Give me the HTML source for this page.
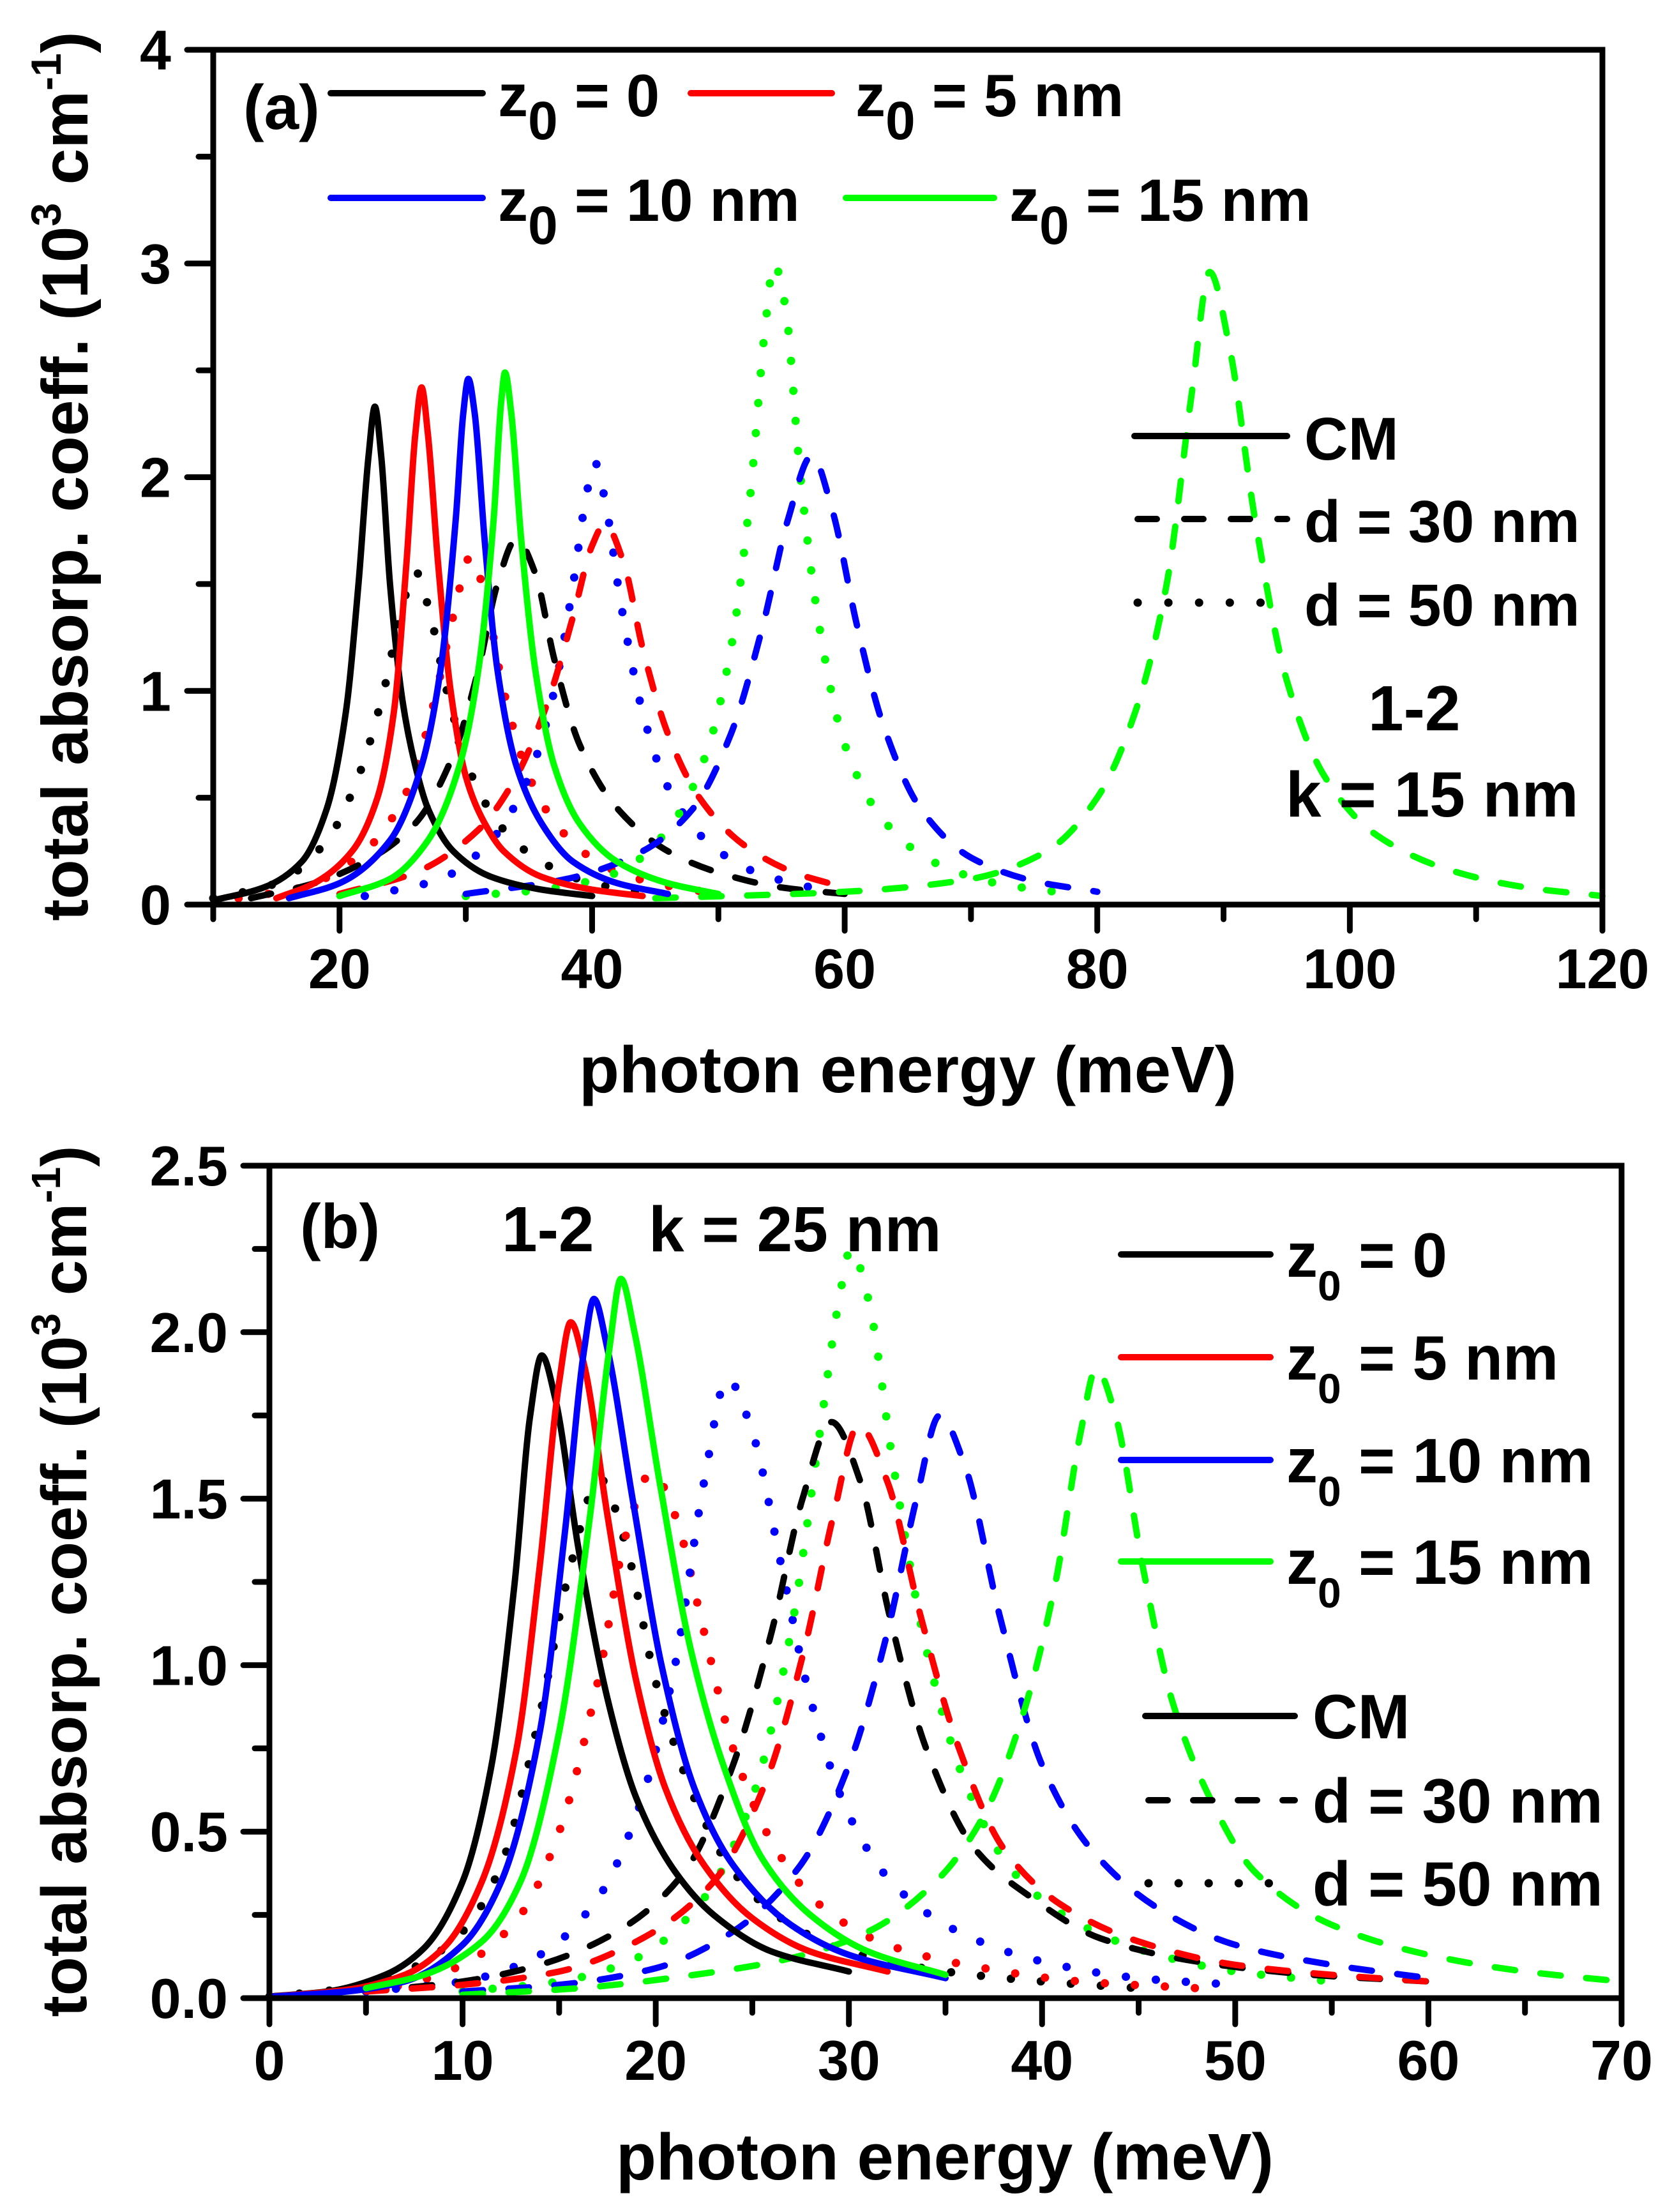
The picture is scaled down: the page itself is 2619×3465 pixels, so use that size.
<!DOCTYPE html>
<html><head><meta charset="utf-8"><title>Total absorption coefficient vs photon energy</title>
<style>
html,body{margin:0;padding:0;background:#fff;}
svg{display:block;}
text{font-family:"Liberation Sans",Arial,sans-serif;font-weight:bold;fill:#000;}
</style></head>
<body>
<svg id="chart" xmlns="http://www.w3.org/2000/svg" width="2619" height="3465" viewBox="0 0 2619 3465">
<rect x="0" y="0" width="2619" height="3465" fill="#fff"/>
<g id="panelA"></g>
<g id="panelB"></g>

<text x="381" y="202" font-size="98">(a)</text>
<g>
  <line x1="518" y1="146" x2="756" y2="146" stroke="#000" stroke-width="10" stroke-linecap="round"/>
  <text x="780" y="182" font-size="94">z<tspan font-size="84" dy="36">0</tspan><tspan dy="-36"> = 0</tspan></text>
  <line x1="1082" y1="146" x2="1303" y2="146" stroke="#ff0000" stroke-width="10" stroke-linecap="round"/>
  <text x="1340" y="182" font-size="94">z<tspan font-size="84" dy="36">0</tspan><tspan dy="-36"> = 5 nm</tspan></text>
  <line x1="518" y1="310" x2="756" y2="310" stroke="#0000ff" stroke-width="10" stroke-linecap="round"/>
  <text x="780" y="346" font-size="94">z<tspan font-size="84" dy="36">0</tspan><tspan dy="-36"> = 10 nm</tspan></text>
  <line x1="1325" y1="310" x2="1557" y2="310" stroke="#00ff00" stroke-width="10" stroke-linecap="round"/>
  <text x="1581" y="346" font-size="94">z<tspan font-size="84" dy="36">0</tspan><tspan dy="-36"> = 15 nm</tspan></text>
</g>
<g>
  <line x1="1777" y1="683" x2="2016" y2="683" stroke="#000" stroke-width="10" stroke-linecap="round"/>
  <text x="2043" y="720" font-size="95">CM</text>
  <line x1="1782" y1="813" x2="2016" y2="813" stroke="#000" stroke-width="10" stroke-linecap="round" stroke-dasharray="30 43"/>
  <text x="2043" y="849" font-size="93">d = 30 nm</text>
  <line x1="1782" y1="944" x2="2016" y2="944" stroke="#000" stroke-width="13" stroke-linecap="round" stroke-dasharray="0.1 48"/>
  <text x="2043" y="980" font-size="93">d = 50 nm</text>
  <text x="2143" y="1144" font-size="100">1-2</text>
  <text x="2014" y="1279" font-size="100">k = 15 nm</text>
</g>
<text x="1422" y="1711" font-size="103" text-anchor="middle">photon energy (meV)</text>
<text transform="translate(137,746) rotate(-90)" font-size="102" text-anchor="middle">total absorp. coeff. (10<tspan font-size="66" dy="-42">3</tspan><tspan dy="42"> cm</tspan><tspan font-size="66" dy="-42">-1</tspan><tspan dy="42">)</tspan></text>

<text x="470" y="1955" font-size="98">(b)</text>
<text x="786" y="1960" font-size="100">1-2<tspan x="1016">k = 25 nm</tspan></text>
<g>
  <line x1="1756" y1="1965" x2="1990" y2="1965" stroke="#000" stroke-width="10" stroke-linecap="round"/>
  <text x="2015" y="2000" font-size="98">z<tspan font-size="66" dy="37">0</tspan><tspan dy="-37"> = 0</tspan></text>
  <line x1="1756" y1="2126" x2="1990" y2="2126" stroke="#ff0000" stroke-width="10" stroke-linecap="round"/>
  <text x="2015" y="2161" font-size="98">z<tspan font-size="66" dy="37">0</tspan><tspan dy="-37"> = 5 nm</tspan></text>
  <line x1="1756" y1="2287" x2="1990" y2="2287" stroke="#0000ff" stroke-width="10" stroke-linecap="round"/>
  <text x="2015" y="2322" font-size="98">z<tspan font-size="66" dy="37">0</tspan><tspan dy="-37"> = 10 nm</tspan></text>
  <line x1="1756" y1="2446" x2="1990" y2="2446" stroke="#00ff00" stroke-width="10" stroke-linecap="round"/>
  <text x="2015" y="2481" font-size="98">z<tspan font-size="66" dy="37">0</tspan><tspan dy="-37"> = 15 nm</tspan></text>
</g>
<g>
  <line x1="1794" y1="2688" x2="2028" y2="2688" stroke="#000" stroke-width="10" stroke-linecap="round"/>
  <text x="2056" y="2723" font-size="98">CM</text>
  <line x1="1799" y1="2820" x2="2028" y2="2820" stroke="#000" stroke-width="10" stroke-linecap="round" stroke-dasharray="30 40"/>
  <text x="2056" y="2855" font-size="98">d = 30 nm</text>
  <line x1="1799" y1="2950" x2="2028" y2="2950" stroke="#000" stroke-width="13" stroke-linecap="round" stroke-dasharray="0.1 47"/>
  <text x="2056" y="2985" font-size="98">d = 50 nm</text>
</g>
<text x="1480" y="3414" font-size="103" text-anchor="middle">photon energy (meV)</text>
<text transform="translate(135,2477) rotate(-90)" font-size="100" text-anchor="middle">total absorp. coeff. (10<tspan font-size="64" dy="-41">3</tspan><tspan dy="41"> cm</tspan><tspan font-size="64" dy="-41">-1</tspan><tspan dy="41">)</tspan></text>
</svg>

<script>
const aXTicks = [20, 40, 60, 80, 100, 120];
const aXTickLabels = ["20", "40", "60", "80", "100", "120"];
const aYTicks = [0, 1, 2, 3, 4];
const aYTickLabels = ["0", "1", "2", "3", "4"];
const aCmZ0  = [[10,0.02],[14,0.08],[17,0.2],[19,0.45],[20.5,0.9],[21.5,1.5],[22.3,2.1],[22.8,2.33],[23.3,2.1],[24,1.5],[25,0.95],[26,0.65],[27,0.45],[29,0.25],[32,0.13],[36,0.07],[40,0.04]];
const aCmZ5  = [[15,0.03],[18,0.1],[21,0.25],[23,0.5],[24.3,0.9],[25.3,1.6],[26,2.2],[26.5,2.42],[27,2.2],[27.8,1.6],[28.8,1.0],[30,0.6],[31.5,0.38],[33,0.25],[36,0.13],[40,0.07],[44,0.04]];
const aCmZ10 = [[16,0.03],[20,0.1],[24,0.3],[26.5,0.65],[28,1.1],[29.2,1.8],[29.8,2.3],[30.2,2.46],[30.7,2.3],[31.5,1.7],[32.5,1.1],[34,0.65],[36,0.38],[38.5,0.2],[42,0.1],[46,0.05]];
const aCmZ15 = [[20,0.04],[24,0.12],[27,0.3],[29.5,0.65],[31,1.1],[32.2,1.8],[32.8,2.35],[33.1,2.49],[33.6,2.3],[34.4,1.7],[35.5,1.1],[37,0.65],[39,0.38],[42,0.2],[46,0.1],[50,0.05]];
const aD30Z0  = [[13,0.03],[18,0.1],[22,0.2],[26,0.38],[29,0.7],[31,1.1],[32.5,1.5],[34,1.71],[35.5,1.55],[37,1.15],[39,0.75],[42,0.45],[46,0.25],[50,0.15],[55,0.08],[60,0.05]];
const aD30Z5  = [[20,0.05],[26,0.15],[31,0.35],[34,0.6],[36.5,0.95],[38.5,1.35],[40,1.68],[41,1.78],[42.5,1.6],[44,1.2],[46,0.8],[48.5,0.5],[52,0.28],[56,0.15],[60,0.08]];
const aD30Z10 = [[30,0.05],[38,0.12],[44,0.25],[48,0.45],[51,0.8],[53.5,1.3],[55.5,1.8],[57.4,2.1],[59,1.85],[61,1.3],[63,0.85],[66,0.45],[70,0.22],[75,0.11],[80,0.06]];
const aD30Z15 = [[45,0.03],[60,0.06],[70,0.12],[76,0.25],[80,0.5],[83,0.9],[85.5,1.5],[87.5,2.4],[88.9,2.96],[90.5,2.6],[92.5,1.8],[95,1.05],[98,0.6],[102,0.33],[108,0.16],[114,0.08],[120,0.04]];
const aD50Z0  = [[10,0.03],[15,0.1],[19,0.3],[21.5,0.6],[23.5,1.0],[25,1.4],[26,1.56],[27,1.4],[28.5,1.0],[30.5,0.6],[33,0.35],[36,0.2],[40,0.1],[45,0.05]];
const aD50Z5  = [[12,0.03],[17,0.08],[22,0.25],[25.5,0.55],[27.5,0.95],[29,1.35],[30.4,1.63],[31.5,1.45],[33,1.0],[35,0.6],[37.5,0.35],[41,0.18],[45,0.1],[50,0.05]];
const aD50Z10 = [[22,0.04],[28,0.12],[32,0.3],[35,0.6],[37,1.0],[38.5,1.5],[39.5,1.9],[40.2,2.07],[41,1.9],[42.3,1.4],[44,0.9],[46,0.55],[49,0.3],[53,0.15],[58,0.07]];
const aD50Z15 = [[30,0.04],[36,0.07],[42,0.15],[46,0.35],[49,0.7],[51,1.2],[52.5,1.9],[53.7,2.7],[54.4,3.0],[55.3,2.8],[56.5,2.0],[58,1.3],[60,0.75],[63,0.4],[67,0.2],[72,0.1],[78,0.05]];

const bXTicks = [0, 10, 20, 30, 40, 50, 60, 70];
const bXTickLabels = ["0", "10", "20", "30", "40", "50", "60", "70"];
const bYTicks = [0, 0.5, 1, 1.5, 2, 2.5];
const bYTickLabels = ["0.0", "0.5", "1.0", "1.5", "2.0", "2.5"];
const bCmZ0  = [[0,0.005],[3,0.02],[6,0.07],[8,0.15],[10,0.35],[11.5,0.7],[12.7,1.25],[13.5,1.75],[14.1,1.93],[14.8,1.8],[16,1.35],[17.5,0.9],[19,0.6],[21,0.38],[23,0.25],[26,0.14],[30,0.08]];
const bCmZ5  = [[0,0.004],[4,0.025],[7,0.07],[9,0.15],[11,0.35],[12.8,0.75],[14,1.3],[15,1.85],[15.6,2.03],[16.3,1.9],[17.5,1.45],[19,0.95],[20.5,0.63],[22.5,0.4],[25,0.24],[28,0.14],[32,0.08]];
const bCmZ10 = [[0,0.004],[4,0.02],[7,0.05],[10,0.16],[12,0.35],[14,0.8],[15.3,1.4],[16.3,1.95],[16.8,2.1],[17.5,1.95],[18.8,1.5],[20.3,1.0],[22,0.63],[24,0.4],[27,0.22],[30,0.13],[35,0.06]];
const bCmZ15 = [[5,0.03],[8,0.07],[11,0.17],[13,0.35],[15,0.8],[16.6,1.45],[17.6,1.95],[18.2,2.16],[18.9,2.0],[20.2,1.55],[21.8,1.05],[23.5,0.7],[25.5,0.42],[28,0.25],[31,0.14],[35,0.07]];
const bD30Z0  = [[5,0.02],[10,0.05],[14,0.1],[18,0.2],[21.5,0.38],[24,0.7],[26,1.1],[27.6,1.5],[29.1,1.73],[30.6,1.55],[32.1,1.15],[34,0.75],[36.5,0.45],[39.5,0.3],[43,0.18],[48,0.11],[54,0.07],[60,0.05]];
const bD30Z5  = [[5,0.02],[10,0.04],[15,0.08],[19,0.17],[23,0.35],[25.7,0.65],[27.7,1.05],[29.2,1.45],[30.5,1.72],[32,1.55],[33.7,1.15],[35.7,0.75],[38,0.45],[41,0.28],[45,0.17],[50,0.1],[55,0.07],[60,0.05]];
const bD30Z10 = [[10,0.02],[15,0.04],[20,0.09],[24,0.2],[27.5,0.4],[30,0.7],[32,1.1],[33.5,1.5],[34.7,1.75],[36,1.6],[37.8,1.15],[40,0.7],[42.5,0.45],[46,0.27],[50,0.16],[55,0.1],[60,0.06]];
const bD30Z15 = [[10,0.01],[16,0.03],[22,0.07],[27,0.12],[31,0.2],[34.5,0.35],[37,0.55],[39,0.85],[40.7,1.25],[42,1.7],[42.8,1.89],[43.8,1.75],[45.2,1.3],[46.7,0.9],[48.7,0.6],[51,0.38],[55,0.22],[60,0.13],[65,0.08],[70,0.05]];
const bD50Z0  = [[0,0.005],[4,0.03],[7,0.08],[10,0.2],[12,0.4],[14,0.85],[15.6,1.3],[17.1,1.56],[18.5,1.35],[20,0.95],[22,0.6],[24,0.38],[27,0.22],[30,0.14],[35,0.08],[40,0.05],[45,0.03]];
const bD50Z5  = [[2,0.01],[6,0.03],[10,0.1],[13,0.25],[15,0.5],[17,0.95],[18.5,1.4],[19.8,1.58],[21,1.45],[22.5,1.1],[24,0.75],[26,0.47],[28.5,0.28],[32,0.16],[37,0.09],[42,0.05],[48,0.03]];
const bD50Z10 = [[5,0.02],[10,0.05],[14,0.13],[17,0.3],[19,0.55],[21,1.0],[22.5,1.55],[23.7,1.86],[25,1.7],[26.5,1.3],[28,0.9],[30,0.55],[32.5,0.33],[36,0.19],[40,0.11],[45,0.06],[50,0.04]];
const bD50Z15 = [[10,0.02],[15,0.05],[19,0.12],[22.5,0.3],[25,0.6],[27,1.1],[28.5,1.7],[29.5,2.1],[30.1,2.25],[31,2.1],[32.3,1.6],[34,1.05],[36,0.65],[38.5,0.38],[42,0.22],[46,0.13],[50,0.08],[55,0.05]];

const SVGNS = "http://www.w3.org/2000/svg";
const COLORS = {z0:"#000000", z5:"#ff0000", z10:"#0000ff", z15:"#00ff00"};

function mk(tag, attrs, parent){
  const el = document.createElementNS(SVGNS, tag);
  for (const k in attrs) el.setAttribute(k, attrs[k]);
  parent.appendChild(el);
  return el;
}

function smoothPath(pts){
  const n = pts.length;
  if (n < 2) return "";
  const dx = [], m = [], t = [];
  for (let i=0;i<n-1;i++){ dx[i]=pts[i+1][0]-pts[i][0]; m[i]=(pts[i+1][1]-pts[i][1])/dx[i]; }
  t[0]=m[0]; t[n-1]=m[n-2];
  for (let i=1;i<n-1;i++){
    if (m[i-1]*m[i] <= 0) t[i]=0;
    else t[i] = 3*(dx[i-1]+dx[i]) / ((2*dx[i]+dx[i-1])/m[i-1] + (dx[i]+2*dx[i-1])/m[i]);
  }
  let d = "M" + pts[0][0].toFixed(1) + "," + pts[0][1].toFixed(1);
  for (let i=0;i<n-1;i++){
    const h = dx[i]/3;
    d += " C" + (pts[i][0]+h).toFixed(1) + "," + (pts[i][1]+h*t[i]).toFixed(1) + " " +
         (pts[i+1][0]-h).toFixed(1) + "," + (pts[i+1][1]-h*t[i+1]).toFixed(1) + " " +
         pts[i+1][0].toFixed(1) + "," + pts[i+1][1].toFixed(1);
  }
  return d;
}

function buildPanel(g, cfg){
  const sx = v => cfg.left + (v - cfg.xmin) / (cfg.xmax - cfg.xmin) * (cfg.right - cfg.left);
  const sy = v => cfg.bottom - (v - cfg.ymin) / (cfg.ymax - cfg.ymin) * (cfg.bottom - cfg.top);

  const cg = mk("g", {}, g);
  
  
  cfg.series.forEach(s => {
    const pts = s.data.map(p => [sx(p[0]), sy(p[1])]);
    const attrs = {d: smoothPath(pts), fill:"none", stroke: COLORS[s.z], "stroke-linecap":"round", "stroke-linejoin":"round"};
    if (s.style === "solid") attrs["stroke-width"] = 10;
    if (s.style === "dash") { attrs["stroke-width"] = 10; attrs["stroke-dasharray"] = "32 40"; }
    if (s.style === "dot") { attrs["stroke-width"] = 13; attrs["stroke-dasharray"] = "0.1 47"; }
    const p = mk("path", attrs, cg);
    
    
  });

  const ax = mk("g", {stroke:"#000", "stroke-width":9, "stroke-linecap":"round", fill:"none"}, g);
  
  
  const box = mk("rect", {x:cfg.left, y:cfg.top, width:cfg.right-cfg.left, height:cfg.bottom-cfg.top, "stroke-linecap":"butt"}, ax);
  
  

  for (let v = cfg.xmin; v <= cfg.xmax + 1e-9; v += cfg.xMinorStep){
    const major = cfg.xTicks.some(t => Math.abs(t - v) < 1e-9);
    const x = sx(v);
    const tl = mk("line", {x1:x, y1:cfg.bottom, x2:x, y2:cfg.bottom + (major ? 41 : 23)}, ax);
    
    
  }
  cfg.xTicks.forEach((v, i) => {
    const t = mk("text", {x: sx(v), y: cfg.xLabelY, "font-size": 88, "text-anchor":"middle"}, g);
    t.textContent = cfg.xTickLabels[i];
    
    
  });
  for (let v = cfg.ymin; v <= cfg.ymax + 1e-9; v += cfg.yMinorStep){
    const major = cfg.yTicks.some(t => Math.abs(t - v) < 1e-9);
    const y = sy(v);
    const tl = mk("line", {x1:cfg.left, y1:y, x2:cfg.left - (major ? 41 : 23), y2:y}, ax);
    
    
  }
  cfg.yTicks.forEach((v, i) => {
    const t = mk("text", {x: cfg.yLabelX, y: sy(v) + 31, "font-size": 88, "text-anchor":"end"}, g);
    t.textContent = cfg.yTickLabels[i];
    
    
  });
}

buildPanel(document.getElementById("panelA"), {
  prefix:"panel-a", left:334, right:2510, top:78, bottom:1417,
  xmin:10, xmax:120, ymin:0, ymax:4, xMinorStep:10, yMinorStep:0.5,
  xTicks:aXTicks, xTickLabels:aXTickLabels, yTicks:aYTicks, yTickLabels:aYTickLabels,
  xLabelY:1548, yLabelX:268,
  series:[
    {name:"a-d50-z0", z:"z0", style:"dot", data:aD50Z0},
    {name:"a-d50-z5", z:"z5", style:"dot", data:aD50Z5},
    {name:"a-d50-z10", z:"z10", style:"dot", data:aD50Z10},
    {name:"a-d50-z15", z:"z15", style:"dot", data:aD50Z15},
    {name:"a-d30-z0", z:"z0", style:"dash", data:aD30Z0},
    {name:"a-d30-z5", z:"z5", style:"dash", data:aD30Z5},
    {name:"a-d30-z10", z:"z10", style:"dash", data:aD30Z10},
    {name:"a-d30-z15", z:"z15", style:"dash", data:aD30Z15},
    {name:"a-cm-z0", z:"z0", style:"solid", data:aCmZ0},
    {name:"a-cm-z5", z:"z5", style:"solid", data:aCmZ5},
    {name:"a-cm-z10", z:"z10", style:"solid", data:aCmZ10},
    {name:"a-cm-z15", z:"z15", style:"solid", data:aCmZ15}
  ]
});

buildPanel(document.getElementById("panelB"), {
  prefix:"panel-b", left:422, right:2540, top:1826, bottom:3130,
  xmin:0, xmax:70, ymin:0, ymax:2.5, xMinorStep:5, yMinorStep:0.25,
  xTicks:bXTicks, xTickLabels:bXTickLabels, yTicks:bYTicks, yTickLabels:bYTickLabels,
  xLabelY:3258, yLabelX:357,
  series:[
    {name:"b-d50-z0", z:"z0", style:"dot", data:bD50Z0},
    {name:"b-d50-z5", z:"z5", style:"dot", data:bD50Z5},
    {name:"b-d50-z10", z:"z10", style:"dot", data:bD50Z10},
    {name:"b-d50-z15", z:"z15", style:"dot", data:bD50Z15},
    {name:"b-d30-z0", z:"z0", style:"dash", data:bD30Z0},
    {name:"b-d30-z5", z:"z5", style:"dash", data:bD30Z5},
    {name:"b-d30-z10", z:"z10", style:"dash", data:bD30Z10},
    {name:"b-d30-z15", z:"z15", style:"dash", data:bD30Z15},
    {name:"b-cm-z0", z:"z0", style:"solid", data:bCmZ0},
    {name:"b-cm-z5", z:"z5", style:"solid", data:bCmZ5},
    {name:"b-cm-z10", z:"z10", style:"solid", data:bCmZ10},
    {name:"b-cm-z15", z:"z15", style:"solid", data:bCmZ15}
  ]
});
</script>
</body></html>
